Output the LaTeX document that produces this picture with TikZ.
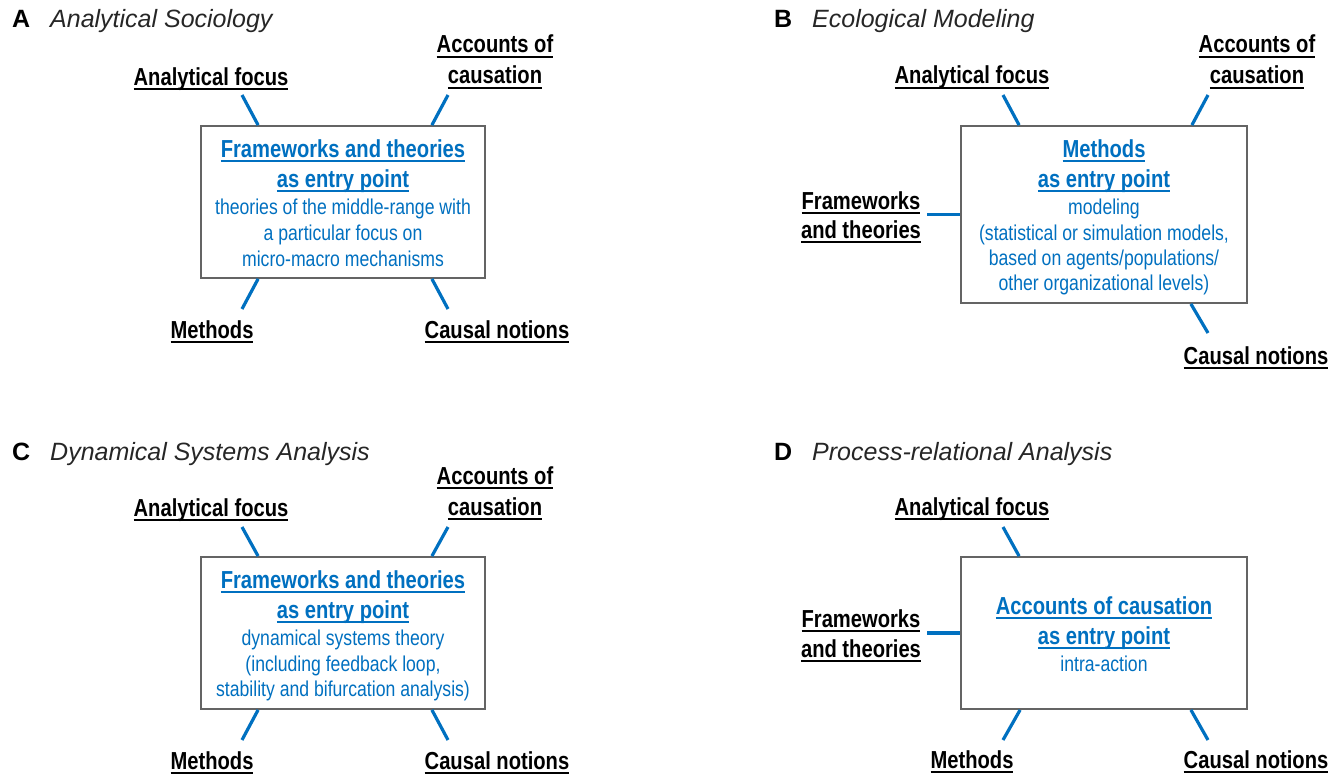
\documentclass[tikz,border=0pt]{standalone}
\usepackage{fontspec}
\setmainfont{Liberation Sans}
\newfontfamily\narrowfont[FakeStretch=0.82]{Liberation Sans}
\definecolor{myblue}{RGB}{0,112,192}
\definecolor{framegray}{RGB}{100,100,100}
\newsavebox\ulbox
% underline drawn in the current text colour
\newcommand\ulx[1]{\sbox\ulbox{#1}\rlap{\rule[-4.6pt]{\wd\ulbox}{1.8pt}}\usebox\ulbox}
\tikzset{
  lab/.style={font=\narrowfont\bfseries\fontsize{24.6}{29}\selectfont, inner sep=0pt, anchor=base, text=black},
  head/.style={font=\narrowfont\bfseries\fontsize{24.6}{29}\selectfont, inner sep=0pt, anchor=base, text=myblue},
  desc/.style={font=\narrowfont\fontsize{21.5}{26}\selectfont, inner sep=0pt, anchor=base, text=myblue},
  ttl/.style={font=\itshape\fontsize{25}{30}\selectfont, inner sep=0pt, anchor=base west, text=black!85},
  letter/.style={font=\bfseries\fontsize{25}{30}\selectfont, inner sep=0pt, anchor=base west, text=black},
  frame/.style={draw=framegray, line width=1.8pt, inner sep=0pt, fill=white},
  spoke/.style={draw=myblue, line width=3.2pt},
}
\begin{document}
\begin{tikzpicture}[x=1pt,y=-1pt]
\useasboundingbox (0,0) rectangle (1342,776);

% ---------------- A: Analytical Sociology ----------------
\node[letter] (A-let) at (12,28) {A};
\node[ttl] (A-ttl) at (50,28) {Analytical Sociology};
\node[frame, minimum width=284pt, minimum height=152pt] (A-box) at (343,202) {};
\node[lab] (A-af) at (211,85) {\ulx{Analytical focus}};
\node[lab] (A-ac1) at (495,53) {\ulx{Accounts of}};
\node[lab] (A-ac2) at (495,84) {\ulx{causation}};
\node[lab] (A-me) at (212,338) {\ulx{Methods}};
\node[lab] (A-cn) at (497,338) {\ulx{Causal notions}};
\node[head] (A-h1) at (343,157) {\ulx{Frameworks and theories}};
\node[head] (A-h2) at (343,187) {\ulx{as entry point}};
\node[desc] (A-d1) at (343,214) {theories of the middle-range with};
\node[desc] (A-d2) at (343,240) {a particular focus on};
\node[desc] (A-d3) at (343,266) {micro-macro mechanisms};
\coordinate (A-tl) at (242,95);
\coordinate (A-tr) at (448,95);
\coordinate (A-bl) at (242,309);
\coordinate (A-br) at (448,309);
\draw[spoke] (A-tl) -- ([xshift=58pt]A-box.north west);
\draw[spoke] (A-tr) -- ([xshift=-54pt]A-box.north east);
\draw[spoke] (A-bl) -- ([xshift=58pt]A-box.south west);
\draw[spoke] (A-br) -- ([xshift=-54pt]A-box.south east);

% ---------------- B: Ecological Modeling ----------------
\node[letter] (B-let) at (774,28) {B};
\node[ttl] (B-ttl) at (812,28) {Ecological Modeling};
\node[frame, minimum width=286pt, minimum height=177pt] (B-box) at (1104,214.5) {};
\node[lab] (B-af) at (972,84) {\ulx{Analytical focus}};
\node[lab] (B-ac1) at (1257,53) {\ulx{Accounts of}};
\node[lab] (B-ac2) at (1257,84) {\ulx{causation}};
\node[lab] (B-ft1) at (861,209) {\ulx{Frameworks}};
\node[lab] (B-ft2) at (861,238) {\ulx{and theories}};
\node[lab] (B-cn) at (1256,364) {\ulx{Causal notions}};
\node[head] (B-h1) at (1104,157) {\ulx{Methods}};
\node[head] (B-h2) at (1104,187) {\ulx{as entry point}};
\node[desc] (B-d1) at (1104,214) {modeling};
\node[desc] (B-d2) at (1104,240) {(statistical or simulation models,};
\node[desc] (B-d3) at (1104,265) {based on agents/populations/};
\node[desc] (B-d4) at (1104,290) {other organizational levels)};
\coordinate (B-tl) at (1003,95);
\coordinate (B-tr) at (1208,95);
\coordinate (B-l) at (927,214.5);
\coordinate (B-br) at (1208,333);
\draw[spoke] (B-tl) -- ([xshift=59pt]B-box.north west);
\draw[spoke] (B-tr) -- ([xshift=-56pt]B-box.north east);
\draw[spoke] (B-l) -- (B-box.west);
\draw[spoke] (B-br) -- ([xshift=-57pt]B-box.south east);

% ---------------- C: Dynamical Systems Analysis ----------------
\node[letter] (C-let) at (12,460) {C};
\node[ttl] (C-ttl) at (50,460) {Dynamical Systems Analysis};
\node[frame, minimum width=284pt, minimum height=152pt] (C-box) at (343,633) {};
\node[lab] (C-af) at (211,516) {\ulx{Analytical focus}};
\node[lab] (C-ac1) at (495,484) {\ulx{Accounts of}};
\node[lab] (C-ac2) at (495,515) {\ulx{causation}};
\node[lab] (C-me) at (212,769) {\ulx{Methods}};
\node[lab] (C-cn) at (497,769) {\ulx{Causal notions}};
\node[head] (C-h1) at (343,588) {\ulx{Frameworks and theories}};
\node[head] (C-h2) at (343,618) {\ulx{as entry point}};
\node[desc] (C-d1) at (343,645) {dynamical systems theory};
\node[desc] (C-d2) at (343,671) {(including feedback loop,};
\node[desc] (C-d3) at (343,696) {stability and bifurcation analysis)};
\coordinate (C-tl) at (242,527);
\coordinate (C-tr) at (448,527);
\coordinate (C-bl) at (242,740);
\coordinate (C-br) at (448,740);
\draw[spoke] (C-tl) -- ([xshift=58pt]C-box.north west);
\draw[spoke] (C-tr) -- ([xshift=-54pt]C-box.north east);
\draw[spoke] (C-bl) -- ([xshift=58pt]C-box.south west);
\draw[spoke] (C-br) -- ([xshift=-54pt]C-box.south east);

% ---------------- D: Process-relational Analysis ----------------
\node[letter] (D-let) at (774,460) {D};
\node[ttl] (D-ttl) at (812,460) {Process-relational Analysis};
\node[frame, minimum width=286pt, minimum height=152pt] (D-box) at (1104,633) {};
\node[lab] (D-af) at (972,515) {\ulx{Analytical focus}};
\node[lab] (D-ft1) at (861,627) {\ulx{Frameworks}};
\node[lab] (D-ft2) at (861,657) {\ulx{and theories}};
\node[lab] (D-me) at (972,768) {\ulx{Methods}};
\node[lab] (D-cn) at (1256,768) {\ulx{Causal notions}};
\node[head] (D-h1) at (1104,614) {\ulx{Accounts of causation}};
\node[head] (D-h2) at (1104,644) {\ulx{as entry point}};
\node[desc] (D-d1) at (1104,671) {intra-action};
\coordinate (D-tl) at (1003,527);
\coordinate (D-l) at (927,633);
\coordinate (D-bl) at (1003,740);
\coordinate (D-br) at (1208,740);
\draw[spoke] (D-tl) -- ([xshift=59pt]D-box.north west);
\draw[spoke] (D-l) -- (D-box.west);
\draw[spoke] (D-bl) -- ([xshift=60pt]D-box.south west);
\draw[spoke] (D-br) -- ([xshift=-57pt]D-box.south east);
\end{tikzpicture}
\end{document}
